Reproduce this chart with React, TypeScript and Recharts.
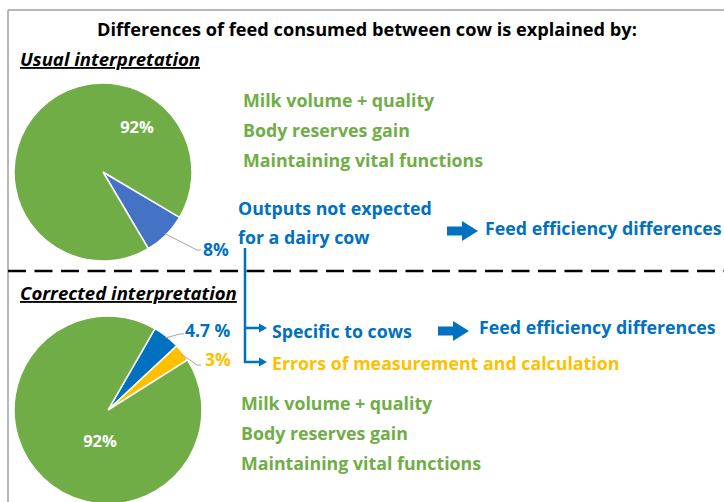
import React from 'react';
import { PieChart, Pie, Cell } from 'recharts';

// usual interpretation (top pie)
const usualParts = ['Outputs not expected', 'Expected outputs'];
const usualValues = [8, 92];
const usualLabels = ['8%', '92%'];
const usualColors = ['#4472C4', '#70AD47'];

// corrected interpretation (bottom pie)
const correctedParts = ['Specific to cows', 'Errors', 'Expected outputs'];
const correctedValues = [4.7, 3, 92];
const correctedLabels = ['4.7 %', '3%', '92%'];
const correctedColors = ['#0070C0', '#FFC000', '#70AD47'];

const expectedLines = ['Milk volume + quality', 'Body reserves gain', 'Maintaining vital functions'];

const FONT = '"Open Sans", Lato, sans-serif';
const GREEN = '#70AD47';
const BLUE = '#0070C0';
const YELLOW = '#FFC000';
const LEADER = '#A6A6A6';
const BODY = 17.8;

const usualData = usualParts.map((name, i) => ({ name, value: usualValues[i], label: usualLabels[i] }));
const correctedData = correctedParts.map((name, i) => ({ name, value: correctedValues[i], label: correctedLabels[i] }));

// label placement relative to the pie centre, per slice
type LabelPos = { dx: number; dy: number; anchor: 'start' | 'middle'; color: string; size: number; leader?: [number, number] };
const usualLabelPos: LabelPos[] = [
  { dx: 100, dy: 84, anchor: 'start', color: BLUE, size: 17.5, leader: [97, 78] },
  { dx: 34, dy: -39, anchor: 'middle', color: '#fff', size: 16.5 },
];
const correctedLabelPos: LabelPos[] = [
  { dx: 77, dy: -73, anchor: 'start', color: BLUE, size: 17.5, leader: [75, -76] },
  { dx: 97, dy: -44, anchor: 'start', color: YELLOW, size: 17.5, leader: [92, -45] },
  { dx: -8, dy: 37, anchor: 'middle', color: '#fff', size: 16.5 },
];

const RAD = Math.PI / 180;

function makeLabel(layout: LabelPos[]) {
  return (props: any) => {
    const { cx, cy, midAngle, outerRadius, index, payload } = props;
    const pos = layout[index];
    if (!pos) return null;
    const tx = cx + pos.dx;
    const ty = cy + pos.dy;
    let leader = null;
    if (pos.leader) {
      const ex = cx + (outerRadius - 2) * Math.cos(-midAngle * RAD);
      const ey = cy + (outerRadius - 2) * Math.sin(-midAngle * RAD);
      const lx = cx + pos.leader[0];
      const ly = cy + pos.leader[1];
      leader = <polyline points={`${ex},${ey} ${lx - 3},${ly} ${lx + 1},${ly}`} fill="none" stroke={LEADER} strokeWidth={1} />;
    }
    return (
      <g key={`lab-${index}`}>
        {leader}
        <text x={tx} y={ty} textAnchor={pos.anchor} fill={pos.color} fontSize={pos.size} fontWeight="bold" fontFamily={FONT}>
          {payload.label}
        </text>
      </g>
    );
  };
}

function Txt({ x, y, children, color = '#000', size = BODY, anchor = 'start', italic = false, underline = false }: any) {
  return (
    <text
      x={x}
      y={y}
      fill={color}
      fontSize={size}
      fontWeight="bold"
      fontFamily={FONT}
      textAnchor={anchor}
      fontStyle={italic ? 'italic' : 'normal'}
      textDecoration={underline ? 'underline' : undefined}
    >
      {children}
    </text>
  );
}

function FatArrow({ x, y, len }: { x: number; y: number; len: number }) {
  // x = tail, y = centre line
  const head = 16;
  const pts = [
    [x, y - 4.5],
    [x + len - head, y - 4.5],
    [x + len - head, y - 10],
    [x + len, y],
    [x + len - head, y + 10],
    [x + len - head, y + 4.5],
    [x, y + 4.5],
  ];
  return <polygon points={pts.map((p) => p.join(',')).join(' ')} fill={BLUE} />;
}

function SmallArrow({ x, y }: { x: number; y: number }) {
  return <polygon points={`${x - 8},${y - 4.5} ${x},${y} ${x - 8},${y + 4.5}`} fill={BLUE} />;
}

export default function App() {
  return (
    <div style={{ position: 'absolute', left: 0, top: 0, width: 724, height: 502, background: '#fff', overflow: 'hidden' }}>
      <svg width={724} height={502} style={{ position: 'absolute', left: 0, top: 0 }}>
        {/* frame */}
        <line x1={8} y1={10} x2={724} y2={10} stroke="#A0A0A0" strokeWidth={1.5} />
        <line x1={8} y1={10} x2={8} y2={502} stroke="#A0A0A0" strokeWidth={1.5} />

        <Txt x={367} y={36} anchor="middle" size={18.2}>Differences of feed consumed between cow is explained by:</Txt>
        <Txt x={20} y={66} italic underline size={18.6}>Usual interpretation</Txt>

        {expectedLines.map((t, i) => (
          <Txt key={`u${i}`} x={243} y={107 + i * 30} color={GREEN}>{t}</Txt>
        ))}
        <Txt x={238} y={215} color={BLUE}>Outputs not expected</Txt>
        <Txt x={238} y={244} color={BLUE}>for a dairy cow</Txt>
        <FatArrow x={447} y={231} len={31} />
        <Txt x={485} y={235} color={BLUE}>Feed efficiency differences</Txt>

        {/* separator */}
        <line x1={8} y1={271} x2={724} y2={271} stroke="#000" strokeWidth={2.5} strokeDasharray="18 8.5" />

        {/* bracket */}
        <polyline points="245,248 245,362 259,362" fill="none" stroke={BLUE} strokeWidth={2.5} />
        <line x1={245} y1={328} x2={259} y2={328} stroke={BLUE} strokeWidth={2.5} />
        <SmallArrow x={267} y={328} />
        <SmallArrow x={267} y={362} />

        <Txt x={20} y={300} italic underline size={18.6}>Corrected interpretation</Txt>
        <Txt x={272} y={338} color={BLUE}>Specific to cows</Txt>
        <FatArrow x={438} y={331} len={31} />
        <Txt x={479} y={334} color={BLUE}>Feed efficiency differences</Txt>
        <Txt x={272} y={370} color={YELLOW}>Errors of measurement and calculation</Txt>

        {expectedLines.map((t, i) => (
          <Txt key={`c${i}`} x={241} y={410 + i * 30} color={GREEN}>{t}</Txt>
        ))}
      </svg>

      <div style={{ position: 'absolute', left: 0, top: 0 }}>
        <PieChart width={724} height={502} margin={{ top: 0, right: 0, bottom: 0, left: 0 }}>
          <Pie
            data={usualData}
            dataKey="value"
            nameKey="name"
            cx={103}
            cy={172}
            outerRadius={89}
            startAngle={-30.6}
            endAngle={-390.6}
            stroke="#fff"
            strokeWidth={1.5}
            label={makeLabel(usualLabelPos)}
            labelLine={false}
            isAnimationActive={false}
          >
            {usualData.map((d, i) => (
              <Cell key={`uc-${i}`} fill={usualColors[i]} />
            ))}
          </Pie>
          <Pie
            data={correctedData}
            dataKey="value"
            nameKey="name"
            cx={108}
            cy={410}
            outerRadius={94}
            startAngle={60}
            endAngle={-300}
            stroke="#fff"
            strokeWidth={1.5}
            label={makeLabel(correctedLabelPos)}
            labelLine={false}
            isAnimationActive={false}
          >
            {correctedData.map((d, i) => (
              <Cell key={`cc-${i}`} fill={correctedColors[i]} />
            ))}
          </Pie>
        </PieChart>
      </div>
    </div>
  );
}
